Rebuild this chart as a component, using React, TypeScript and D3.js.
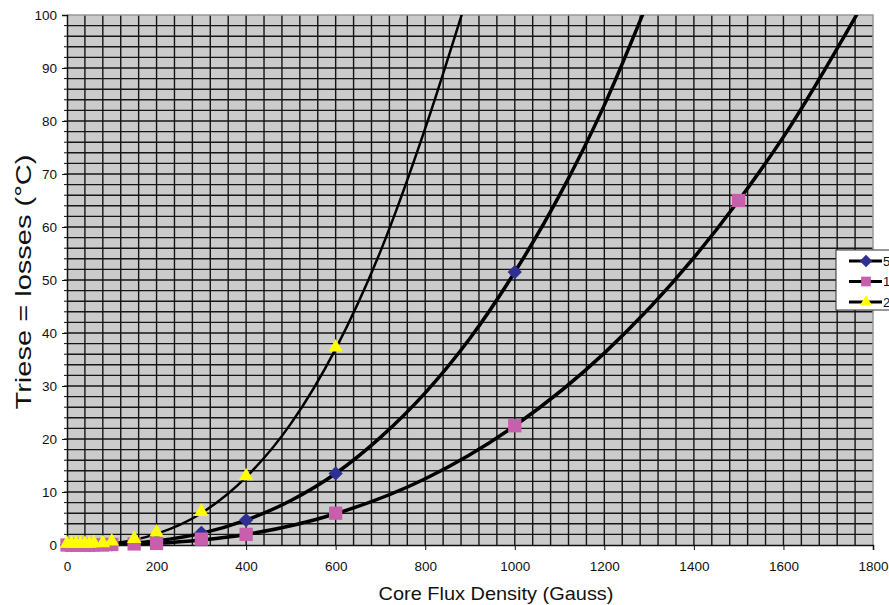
import * as d3 from 'd3';
import { useEffect, useRef } from 'react';

// sample points (Gauss) shared by the three series
const gauss = [0, 10, 20, 30, 40, 50, 60, 80, 100, 150, 200, 300, 400, 600, 1000, 1500];
const blueVals = [0, 0, 0, 0, 0, 0, 0, 0.1, 0.1, 0.4, 0.8, 2.3, 4.7, 13.5, 51.5, null];
const pinkVals = [0, 0, 0, 0, 0, 0, 0, 0, 0.1, 0.2, 0.3, 1.1, 2.0, 6.0, 22.5, 65];
const yellowVals = [0, 0, 0, 0, 0, 0, 0.1, 0.1, 0.4, 0.9, 2.1, 6.0, 12.7, 37, null, null];

// trend curves: [gauss, value]
const blueCurve = [[0, 0], [100, 0.1], [200, 0.8], [300, 2.2], [400, 4.7], [500, 8.4], [600, 13.5], [700, 20.3], [800, 28.7], [900, 39], [1000, 51.5], [1100, 66], [1200, 83], [1290, 101]];
const pinkCurve = [[0, 0], [100, 0.05], [200, 0.33], [300, 0.96], [400, 2.0], [600, 5.9], [800, 12.5], [1000, 22.5], [1200, 36.2], [1400, 54.2], [1500, 65], [1600, 77], [1770, 101]];
const yellowCurve = [[0, 0], [100, 0.34], [200, 2.1], [300, 6.0], [400, 12.8], [500, 22.9], [600, 37], [700, 55.4], [800, 78.6], [885, 101]];

const xTicks = [0, 200, 400, 600, 800, 1000, 1200, 1400, 1600, 1800];
const yTicks = [0, 10, 20, 30, 40, 50, 60, 70, 80, 90, 100];
const legendLabels = ['5', '1', '2'];

const App = () => {
  const ref = useRef(null);

  useEffect(() => {
    const svg = d3.select(ref.current);
    svg.selectAll('*').remove();

    const left = 67, right = 873, top = 15, bottom = 545;
    const x = d3.scaleLinear().domain([0, 1800]).range([left, right]);
    const y = d3.scaleLinear().domain([0, 100]).range([bottom, top]);
    const font = 'Liberation Sans, Arial, sans-serif';

    svg.append('rect').attr('width', 889).attr('height', 605).attr('fill', 'white');

    svg.append('defs').append('clipPath').attr('id', 'plotclip')
      .append('rect').attr('x', left).attr('y', top).attr('width', right - left).attr('height', bottom - top);

    svg.append('rect')
      .attr('x', left).attr('y', top)
      .attr('width', right - left).attr('height', bottom - top)
      .attr('fill', '#cbcbcb');

    // grid
    const grid = svg.append('g').attr('stroke', '#151515').attr('stroke-width', 1.4);
    grid.selectAll('.vx').data(d3.range(40, 1800, 40)).join('line')
      .attr('x1', (d) => x(d)).attr('x2', (d) => x(d))
      .attr('y1', top).attr('y2', bottom);
    grid.selectAll('.hy').data(d3.range(2, 100, 2)).join('line')
      .attr('y1', (d) => y(d)).attr('y2', (d) => y(d))
      .attr('x1', left).attr('x2', right);

    // plot border (top/right gray)
    svg.append('path')
      .attr('d', `M${left},${top}H${right}V${bottom}`)
      .attr('fill', 'none').attr('stroke', '#999').attr('stroke-width', 1.5);

    // axes
    const yAxis = svg.append('g').attr('transform', `translate(${left},0)`)
      .call(d3.axisLeft(y).tickValues(yTicks).tickSize(5).tickPadding(5));
    yAxis.selectAll('text').attr('font-size', 13.5).attr('font-family', font).attr('fill', '#111');
    yAxis.select('.domain').attr('stroke', '#111').attr('stroke-width', 1.5);
    yAxis.selectAll('line').attr('stroke', '#111');
    svg.append('g').selectAll('line').data(d3.range(2, 100, 2)).join('line')
      .attr('x1', left - 3).attr('x2', left)
      .attr('y1', (d) => y(d)).attr('y2', (d) => y(d))
      .attr('stroke', '#111');

    const xAxis = svg.append('g').attr('transform', `translate(0,${bottom})`)
      .call(d3.axisBottom(x).tickValues(xTicks).tickFormat(d3.format('d')).tickSize(5).tickPadding(11));
    xAxis.selectAll('text').attr('font-size', 13.5).attr('font-family', font).attr('fill', '#111');
    xAxis.select('.domain').attr('stroke', '#111').attr('stroke-width', 1.5);
    xAxis.selectAll('line').attr('stroke', '#111');

    svg.append('text')
      .attr('x', 496).attr('y', 600)
      .attr('text-anchor', 'middle').attr('font-size', 19).attr('font-family', font).attr('fill', '#111')
      .attr('textLength', 235).attr('lengthAdjust', 'spacingAndGlyphs')
      .text('Core Flux Density (Gauss)');
    svg.append('text')
      .attr('transform', 'translate(31,282) rotate(-90)')
      .attr('text-anchor', 'middle').attr('font-size', 22).attr('font-family', font).attr('fill', '#111')
      .attr('textLength', 255).attr('lengthAdjust', 'spacingAndGlyphs')
      .text('Triese = losses (°C)');

    // curves
    const line = d3.line().x((d) => x(d[0])).y((d) => y(d[1])).curve(d3.curveMonotoneX);
    const curves = svg.append('g').attr('clip-path', 'url(#plotclip)').attr('fill', 'none').attr('stroke', '#000');
    curves.append('path').attr('d', line(blueCurve)).attr('stroke-width', 3.5);
    curves.append('path').attr('d', line(pinkCurve)).attr('stroke-width', 3.5);
    curves.append('path').attr('d', line(yellowCurve)).attr('stroke-width', 2.5);

    const diamond = d3.symbol().type(d3.symbolDiamond2).size(130)();
    const square = d3.symbol().type(d3.symbolSquare2).size(225)();
    const triangle = d3.symbol().type(d3.symbolTriangle2).size(150)();

    const pts = (vals) => gauss.map((g, i) => [g, vals[i]]).filter((d) => d[1] != null);

    const marks = svg.append('g');
    marks.selectAll('.b').data(pts(blueVals)).join('path')
      .attr('d', diamond).attr('fill', '#2e3192')
      .attr('transform', (d) => `translate(${x(d[0])},${y(d[1])})`);
    marks.selectAll('.p').data(pts(pinkVals)).join('path')
      .attr('d', square).attr('fill', '#c85fac')
      .attr('transform', (d) => `translate(${x(d[0])},${y(d[1])})`);
    marks.selectAll('.t').data(pts(yellowVals)).join('path')
      .attr('d', triangle).attr('fill', '#ffff00')
      .attr('transform', (d) => `translate(${x(d[0])},${y(d[1]) - 1.5})`);

    // legend
    const lg = svg.append('g');
    lg.append('rect').attr('x', 836).attr('y', 250).attr('width', 70).attr('height', 60)
      .attr('fill', 'white').attr('stroke', '#333').attr('stroke-width', 1);
    const legendMarks = [
      { d: d3.symbol().type(d3.symbolDiamond2).size(100)(), fill: '#2e3192' },
      { d: d3.symbol().type(d3.symbolSquare2).size(120)(), fill: '#c85fac' },
      { d: d3.symbol().type(d3.symbolTriangle2).size(105)(), fill: '#ffff00' },
    ];
    legendLabels.forEach((lab, i) => {
      const ly = 261 + i * 20.5;
      lg.append('line').attr('x1', 849).attr('x2', 882).attr('y1', ly).attr('y2', ly)
        .attr('stroke', '#000').attr('stroke-width', 3);
      lg.append('path').attr('d', legendMarks[i].d).attr('fill', legendMarks[i].fill)
        .attr('transform', `translate(866,${ly})`);
      lg.append('text').attr('x', 883).attr('y', ly + 4.5)
        .attr('font-size', 13).attr('font-family', font).attr('fill', '#111').text(lab);
    });
  }, []);

  return <svg ref={ref} width={889} height={605} style={{ position: 'absolute', left: 0, top: 0 }}></svg>;
};

export default App;
